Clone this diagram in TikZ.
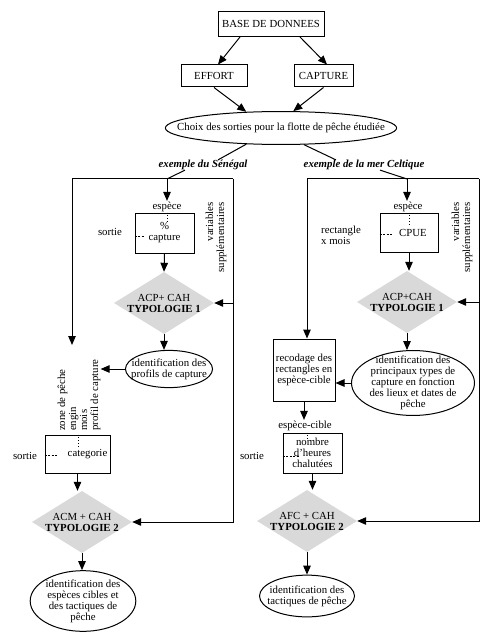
\documentclass[tikz,border=0pt]{standalone}
\usepackage{fontspec}
\setmainfont{Liberation Serif}
\usetikzlibrary{arrows.meta,shapes.geometric}
\begin{document}
\begin{tikzpicture}[x=1pt,y=-1pt,
  every node/.style={font=\fontsize{10.8}{11}\selectfont, inner sep=1pt},
  box/.style={draw, line width=1pt, align=center, inner sep=1pt},
  oval/.style={draw, ellipse, line width=1pt, align=center, inner sep=0pt},
  dia/.style={diamond, fill=gray!30, align=center, inner xsep=-6pt, inner ysep=0pt, aspect=1.6,
    minimum width=100pt, minimum height=62pt},
  arr/.style={line width=1pt, -{Triangle[length=9pt,width=7.5pt]}},
  ln/.style={line width=1pt},
  dotline/.style={line width=0.9pt, dotted},
  dashline/.style={line width=0.9pt, dash pattern=on 2pt off 1.5pt},
  rotl/.style={rotate=90, inner sep=0pt},
  ex/.style={font=\fontsize{10.8}{11}\selectfont\bfseries\itshape, inner sep=0pt},
]
\useasboundingbox (0,0) rectangle (500,644);
\fill[white] (0,0) rectangle (500,644);

% top part
\node[box, minimum width=106pt, minimum height=25pt] (db) at (271,24) {BASE DE DONNEES};
\node[box, minimum width=66pt, minimum height=22pt] (effort) at (214,76) {EFFORT};
\node[box, minimum width=59pt, minimum height=22pt] (capture) at (323.5,76) {CAPTURE};
\node[oval, inner xsep=-22pt, inner ysep=6.7pt] (choix) at (281,128) {Choix des sorties pour la flotte de p\^eche \'etudi\'ee};

\draw[arr] ([xshift=-31pt]db.south) -- ([xshift=4pt]effort.north);
\draw[arr] ([xshift=29pt]db.south) -- ([xshift=3.5pt]capture.north);
\draw[arr] (effort.south) -- (choix.155);
\draw[arr] (capture.south) -- (choix.54);

\node[ex] (senlab) at (203,165) {exemple du S\'en\'egal};
\node[ex] (cellab) at (364,165) {exemple de la mer Celtique};
\draw[ln] (choix.205) -- ([xshift=15pt]senlab.north);
\draw[ln] (choix.324) -- ([xshift=-28pt]cellab.north);

% left column
\coordinate (sl) at (72,179);
\coordinate (sr) at (233,179);
\coordinate (sj) at (167,179);
\coordinate (zarr) at (72,345);

\node (esp1) at (167,207) {esp\`ece};
\node[box, minimum width=59pt, minimum height=40pt] (cap1) at (164.5,233) {\%\\capture};
\node (sortie1) at (110,232) {sortie};
\node[rotl, align=right] (var1) at (216,237.5) {variables\\suppl\'ementaires};
\node[dia] (acp1) at (164,303) {ACP+ CAH\\\textbf{TYPOLOGIE 1}};
\node[oval, inner xsep=-7pt, inner ysep=2.7pt] (id1) at (169,369) {identification des\\profils de capture};
\node[rotl, align=left, anchor=west] (zlab) at (79,431) {zone de p\^eche\\engin\\mois\\profil de capture};
\node[box, minimum width=65pt, minimum height=38pt] (cat) at (77.5,454) {\hspace*{20pt}categorie};
\node (sortie2) at (25,456) {sortie};
\node[dia] (acm) at (82,522) {ACM + CAH\\\textbf{TYPOLOGIE 2}};
\node[oval, inner xsep=0pt, inner ysep=0pt] (id2) at (83,601) {identification des\\esp\`eces cibles et\\des tactiques de\\p\^eche};

\draw[ln] ([xshift=-18pt]senlab.south) -- (sj);
\draw[arr] (sj) -- (sj |- esp1.north);
\draw[ln] (sl) -- (sr);
\draw[arr] (sl) -- (zarr);
\draw[arr] (sr) -- (sr |- acm.east) -- (acm.east);
\draw[arr] (sr |- acp1.east) -- (acp1.east);
\draw[dotline] ([xshift=2.5pt]cap1.north) -- ++(0,11);
\draw[dashline] ([yshift=-3pt]cap1.west) -- ++(10,0);
\draw[arr] (cap1.south) -- (acp1.north);
\draw[arr] (acp1.south) -- (acp1.south |- id1.north);
\draw[arr] (id1.west) -- (id1.west -| zlab.south);
\draw[dotline] ([xshift=0.5pt]cat.north) -- ++(0,13);
\draw[dashline] ([yshift=-1pt]cat.west) -- ++(13,0);
\draw[arr] (cat.south) -- (cat.south |- acm.north);
\draw[arr] (acm.south) -- (acm.south |- id2.north);

% right column
\coordinate (cl) at (307,179);
\coordinate (cr) at (479,179);
\coordinate (cj) at (407,179);

\node (esp2) at (408,207) {esp\`ece};
\node[box, minimum width=58pt, minimum height=39pt] (cpue) at (409,232.5) {\hspace*{8pt}CPUE};
\node[align=left] (rectx) at (341,235) {rectangle\\x mois};
\node[rotl, align=right] (var2) at (462,237.5) {variables\\suppl\'ementaires};
\node[dia] (acp2) at (407,302) {ACP+CAH\\\textbf{TYPOLOGIE 1}};
\node[oval, inner xsep=0pt, inner ysep=-4pt] (id3) at (413,383) {identification des\\principaux types de\\capture en fonction\\des lieux et dates de\\p\^eche};
\node[box, minimum width=62pt, minimum height=62pt] (rec) at (304,370) {recodage des\\rectangles en\\esp\`ece-cible};
\node (espc) at (305,426) {esp\`ece-cible};
\node[box, minimum width=59pt, minimum height=40pt] (nomb) at (312.5,453) {nombre\\d’heures\\chalut\'ees};
\node (sortie3) at (252,456) {sortie};
\node[dia] (afc) at (307,521) {AFC + CAH\\\textbf{TYPOLOGIE 2}};
\node[oval, inner xsep=-6pt, inner ysep=4.3pt] (id4) at (307,596) {identification des\\tactiques de p\^eche};

\draw[ln] ([xshift=16pt]cellab.south) -- (cj);
\draw[arr] (cj) -- (cj |- esp2.north);
\draw[ln] (cl) -- (cr);
\draw[arr] (cl) -- (cl |- rec.north);
\draw[arr] (cr) -- (cr |- afc.east) -- (afc.east);
\draw[arr] (cr |- acp2.east) -- (acp2.east);
\draw[dotline] (cpue.north) -- ++(0,12);
\draw[dashline] ([yshift=-1.5pt]cpue.west) -- ++(12,0);
\draw[arr] (cpue.south) -- (cpue.south |- acp2.north);
\draw[arr] (acp2.south) -- (acp2.south |- id3.north);
\draw[arr] (id3.west) -- (id3.west -| rec.east);
\draw[arr] (rec.south) -- (rec.south |- espc.north);
\draw[dotline] ([xshift=-5pt]nomb.north) -- ++(0,7);
\draw[dashline] ([yshift=-3pt]nomb.west) -- ++(16,0);
\draw[arr] (nomb.south) -- (nomb.south |- afc.north);
\draw[arr] (afc.south) -- (afc.south |- id4.north);
\end{tikzpicture}
\end{document}
